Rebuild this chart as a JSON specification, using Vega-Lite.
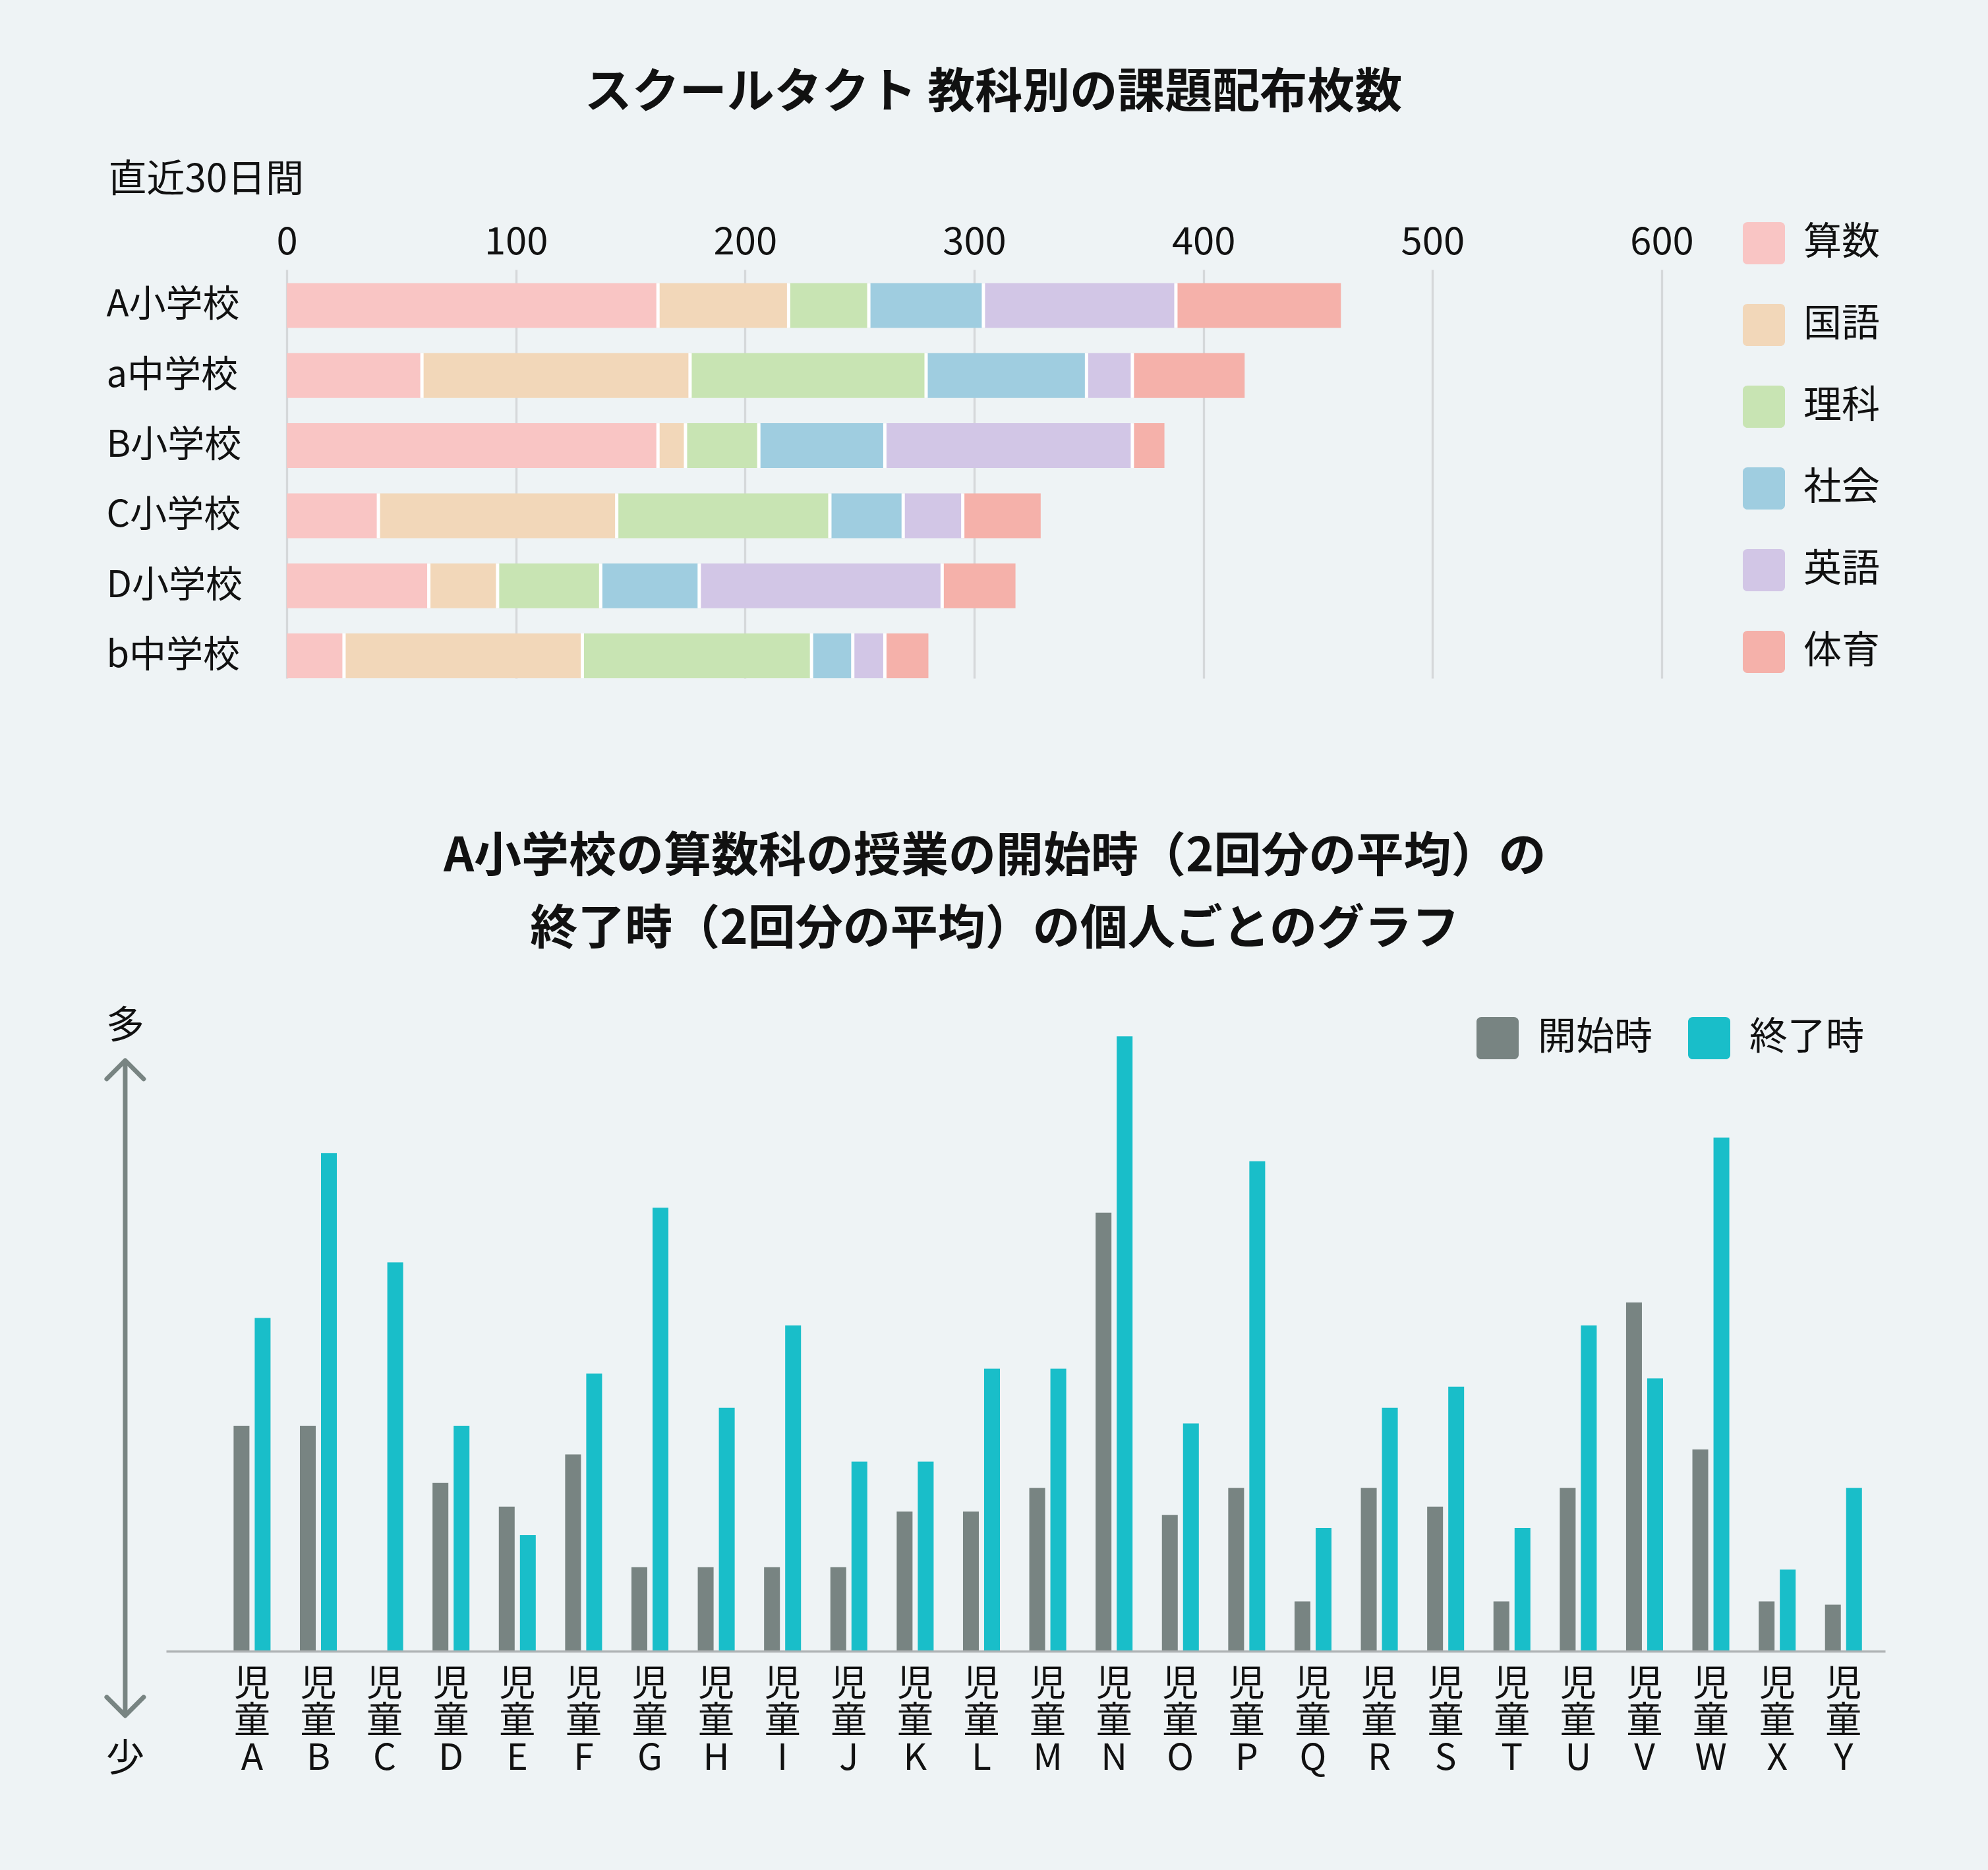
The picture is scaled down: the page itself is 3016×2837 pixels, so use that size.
{
  "$schema": "https://vega.github.io/schema/vega-lite/v6.json",
  "background": "#eef3f5",
  "padding": {"left": 158, "top": 105, "right": 170, "bottom": 150},
  "spacing": 235,
  "resolve": {"scale": {"color": "independent"}, "legend": {"color": "independent"}},
  "config": {
    "font": "Noto Sans CJK JP",
    "view": {"stroke": null},
    "axis": {"labelColor": "#111111", "titleColor": "#111111"},
    "legend": {"labelColor": "#111111"},
    "title": {"color": "#111111"}
  },
  "vconcat": [
    {
      "width": 2269,
      "height": 620,
      "title": {"text": "スクールタクト 教科別の課題配布枚数", "fontSize": 72, "fontWeight": "bold", "anchor": "middle", "frame": "bounds", "offset": 66},
      "data": {"values": [
        {"school": "A小学校", "subject": "算数", "count": 162},
        {"school": "A小学校", "subject": "国語", "count": 57},
        {"school": "A小学校", "subject": "理科", "count": 35},
        {"school": "A小学校", "subject": "社会", "count": 50},
        {"school": "A小学校", "subject": "英語", "count": 84},
        {"school": "A小学校", "subject": "体育", "count": 72},
        {"school": "a中学校", "subject": "算数", "count": 59},
        {"school": "a中学校", "subject": "国語", "count": 117},
        {"school": "a中学校", "subject": "理科", "count": 103},
        {"school": "a中学校", "subject": "社会", "count": 70},
        {"school": "a中学校", "subject": "英語", "count": 20},
        {"school": "a中学校", "subject": "体育", "count": 49},
        {"school": "B小学校", "subject": "算数", "count": 162},
        {"school": "B小学校", "subject": "国語", "count": 12},
        {"school": "B小学校", "subject": "理科", "count": 32},
        {"school": "B小学校", "subject": "社会", "count": 55},
        {"school": "B小学校", "subject": "英語", "count": 108},
        {"school": "B小学校", "subject": "体育", "count": 14},
        {"school": "C小学校", "subject": "算数", "count": 40},
        {"school": "C小学校", "subject": "国語", "count": 104},
        {"school": "C小学校", "subject": "理科", "count": 93},
        {"school": "C小学校", "subject": "社会", "count": 32},
        {"school": "C小学校", "subject": "英語", "count": 26},
        {"school": "C小学校", "subject": "体育", "count": 34},
        {"school": "D小学校", "subject": "算数", "count": 62},
        {"school": "D小学校", "subject": "国語", "count": 30},
        {"school": "D小学校", "subject": "理科", "count": 45},
        {"school": "D小学校", "subject": "社会", "count": 43},
        {"school": "D小学校", "subject": "英語", "count": 106},
        {"school": "D小学校", "subject": "体育", "count": 32},
        {"school": "b中学校", "subject": "算数", "count": 25},
        {"school": "b中学校", "subject": "国語", "count": 104},
        {"school": "b中学校", "subject": "理科", "count": 100},
        {"school": "b中学校", "subject": "社会", "count": 18},
        {"school": "b中学校", "subject": "英語", "count": 14},
        {"school": "b中学校", "subject": "体育", "count": 19}
      ]},
      "transform": [
        {"calculate": "indexof(['算数','国語','理科','社会','英語','体育'], datum.subject)", "as": "order"}
      ],
      "encoding": {
        "y": {
          "field": "school", "type": "nominal",
          "sort": ["A小学校", "a中学校", "B小学校", "C小学校", "D小学校", "b中学校"],
          "scale": {"paddingInner": 0.3603, "paddingOuter": 0.0964, "align": 1},
          "axis": {"title": null, "domain": false, "ticks": false, "labelAlign": "left", "labelPadding": 91, "labelFontSize": 56, "labelBaseline": "middle", "labelLimit": 0}
        }
      },
      "layer": [
        {
          "mark": {"type": "bar"},
          "encoding": {
            "x": {
              "field": "count", "type": "quantitative", "stack": "zero",
              "scale": {"domain": [-52.64, 600], "nice": false, "zero": false},
              "axis": {"orient": "top", "values": [0, 100, 200, 300, 400, 500, 600], "grid": true, "gridColor": "#d5d8da", "gridWidth": 3.3, "domain": false, "ticks": false, "labelFontSize": 58, "labelPadding": 12, "labelFlush": false, "title": "直近30日間", "titleFontSize": 58, "titleFontWeight": "normal", "titleX": -88, "titleY": -107, "titleAlign": "left", "titleBaseline": "bottom", "titleAngle": 0}
            },
            "color": {
              "field": "subject", "type": "nominal",
              "scale": {"domain": ["算数", "国語", "理科", "社会", "英語", "体育"], "range": ["#f9c5c4", "#f2d7b9", "#c8e4b3", "#9fcde0", "#d2c6e6", "#f5b1aa"]},
              "legend": {"orient": "none", "direction": "vertical", "legendX": 2392, "legendY": -72, "title": null, "symbolType": "M-0.78,-1H0.78A0.22,0.22,0,0,1,1,-0.78V0.78A0.22,0.22,0,0,1,0.78,1H-0.78A0.22,0.22,0,0,1,-1,0.78V-0.78A0.22,0.22,0,0,1,-0.78,-1Z", "symbolSize": 4096, "symbolStrokeWidth": 0, "symbolOpacity": 1, "labelFontSize": 58, "labelOffset": 28, "rowPadding": 60, "labelLimit": 0}
            },
            "order": {"field": "order", "type": "quantitative"}
          }
        },
        {
          "transform": [
            {"window": [{"op": "sum", "field": "count", "as": "cum"}], "groupby": ["school"], "sort": [{"field": "order", "order": "ascending"}], "frame": [null, 0]},
            {"filter": "datum.order < 5"}
          ],
          "mark": {"type": "tick", "color": "#ffffff", "thickness": 5, "size": 68, "opacity": 1},
          "encoding": {
            "x": {
              "field": "cum", "type": "quantitative",
              "scale": {"domain": [-52.64, 600], "nice": false, "zero": false},
              "axis": {"orient": "top", "values": [0, 100, 200, 300, 400, 500, 600], "grid": true, "gridColor": "#d5d8da", "gridWidth": 3.3, "domain": false, "ticks": false, "labelFontSize": 58, "labelPadding": 12, "labelFlush": false, "title": "直近30日間", "titleFontSize": 58, "titleFontWeight": "normal", "titleX": -88, "titleY": -107, "titleAlign": "left", "titleBaseline": "bottom", "titleAngle": 0}
            }
          }
        }
      ]
    },
    {
      "width": 2608,
      "height": 991,
      "title": {"text": ["A小学校の算数科の授業の開始時（2回分の平均）の", "終了時（2回分の平均）の個人ごとのグラフ"], "fontSize": 72, "fontWeight": "bold", "anchor": "middle", "frame": "bounds", "offset": 67, "lineHeight": 110},
      "resolve": {"scale": {"x": "independent"}, "axis": {"x": "independent"}},
      "layer": [
        {
          "data": {"values": [
            {"child": "児童A", "phase": "開始時", "value": 2.76}, {"child": "児童A", "phase": "終了時", "value": 4.08},
            {"child": "児童B", "phase": "開始時", "value": 2.76}, {"child": "児童B", "phase": "終了時", "value": 6.10},
            {"child": "児童C", "phase": "開始時", "value": 0}, {"child": "児童C", "phase": "終了時", "value": 4.76},
            {"child": "児童D", "phase": "開始時", "value": 2.06}, {"child": "児童D", "phase": "終了時", "value": 2.76},
            {"child": "児童E", "phase": "開始時", "value": 1.77}, {"child": "児童E", "phase": "終了時", "value": 1.42},
            {"child": "児童F", "phase": "開始時", "value": 2.41}, {"child": "児童F", "phase": "終了時", "value": 3.40},
            {"child": "児童G", "phase": "開始時", "value": 1.03}, {"child": "児童G", "phase": "終了時", "value": 5.43},
            {"child": "児童H", "phase": "開始時", "value": 1.03}, {"child": "児童H", "phase": "終了時", "value": 2.98},
            {"child": "児童I", "phase": "開始時", "value": 1.03}, {"child": "児童I", "phase": "終了時", "value": 3.99},
            {"child": "児童J", "phase": "開始時", "value": 1.03}, {"child": "児童J", "phase": "終了時", "value": 2.32},
            {"child": "児童K", "phase": "開始時", "value": 1.71}, {"child": "児童K", "phase": "終了時", "value": 2.32},
            {"child": "児童L", "phase": "開始時", "value": 1.71}, {"child": "児童L", "phase": "終了時", "value": 3.46},
            {"child": "児童M", "phase": "開始時", "value": 2.00}, {"child": "児童M", "phase": "終了時", "value": 3.46},
            {"child": "児童N", "phase": "開始時", "value": 5.37}, {"child": "児童N", "phase": "終了時", "value": 7.53},
            {"child": "児童O", "phase": "開始時", "value": 1.67}, {"child": "児童O", "phase": "終了時", "value": 2.79},
            {"child": "児童P", "phase": "開始時", "value": 2.00}, {"child": "児童P", "phase": "終了時", "value": 6.00},
            {"child": "児童Q", "phase": "開始時", "value": 0.61}, {"child": "児童Q", "phase": "終了時", "value": 1.51},
            {"child": "児童R", "phase": "開始時", "value": 2.00}, {"child": "児童R", "phase": "終了時", "value": 2.98},
            {"child": "児童S", "phase": "開始時", "value": 1.77}, {"child": "児童S", "phase": "終了時", "value": 3.24},
            {"child": "児童T", "phase": "開始時", "value": 0.61}, {"child": "児童T", "phase": "終了時", "value": 1.51},
            {"child": "児童U", "phase": "開始時", "value": 2.00}, {"child": "児童U", "phase": "終了時", "value": 3.99},
            {"child": "児童V", "phase": "開始時", "value": 4.27}, {"child": "児童V", "phase": "終了時", "value": 3.34},
            {"child": "児童W", "phase": "開始時", "value": 2.47}, {"child": "児童W", "phase": "終了時", "value": 6.29},
            {"child": "児童X", "phase": "開始時", "value": 0.61}, {"child": "児童X", "phase": "終了時", "value": 1.00},
            {"child": "児童Y", "phase": "開始時", "value": 0.57}, {"child": "児童Y", "phase": "終了時", "value": 2.00}
          ]},
          "mark": {"type": "bar"},
          "encoding": {
            "x": {
              "field": "child", "type": "nominal",
              "scale": {"paddingInner": 0.443, "paddingOuter": 0.684, "align": 0.744},
              "axis": {"title": null, "labelAngle": 0, "labelExpr": "split(datum.label, '')", "labelFontSize": 55, "labelLineHeight": 56.5, "labelPadding": 23, "labelBaseline": "top", "ticks": false, "domain": true, "domainColor": "#aeb2b4", "domainWidth": 3.3, "zindex": 1}
            },
            "xOffset": {"field": "phase", "type": "nominal", "sort": ["開始時", "終了時"], "scale": {"paddingInner": 0.25, "paddingOuter": 0}},
            "y": {
              "field": "value", "type": "quantitative",
              "scale": {"domain": [0, 8], "nice": false, "zero": true},
              "axis": {"title": null, "labels": false, "ticks": false, "domain": false, "grid": true, "values": [0, 1, 2, 3, 4, 5, 6, 7, 8], "gridColor": "#d5d8da", "gridWidth": 3.3}
            },
            "color": {
              "field": "phase", "type": "nominal",
              "scale": {"domain": ["開始時", "終了時"], "range": ["#788482", "#19bec9"]},
              "legend": {"orient": "none", "direction": "horizontal", "legendX": 1988, "legendY": 29, "title": null, "symbolType": "M-0.78,-1H0.78A0.22,0.22,0,0,1,1,-0.78V0.78A0.22,0.22,0,0,1,0.78,1H-0.78A0.22,0.22,0,0,1,-1,0.78V-0.78A0.22,0.22,0,0,1,-0.78,-1Z", "symbolSize": 4096, "symbolStrokeWidth": 0, "symbolOpacity": 1, "labelFontSize": 58, "labelOffset": 29, "columnPadding": 53, "labelLimit": 0}
            }
          }
        },
        {
          "data": {"values": [{}]},
          "encoding": {
            "x": {"datum": -0.0238, "type": "quantitative", "scale": {"domain": [0, 1], "nice": false, "zero": false}, "axis": null}
          },
          "layer": [
            {
              "mark": {"type": "rule", "color": "#788482", "strokeWidth": 7, "strokeCap": "round"},
              "encoding": {
                "y": {"datum": 7.2, "type": "quantitative", "scale": {"domain": [0, 8], "nice": false, "zero": true}, "axis": null},
                "y2": {"datum": -0.755}
              }
            },
            {
              "mark": {"type": "point", "shape": "M-1,0.5L0,-0.5L1,0.5", "filled": false, "size": 3136, "strokeWidth": 7, "strokeCap": "round", "strokeJoin": "round", "opacity": 1, "color": "#788482"},
              "encoding": {
                "y": {"datum": 7.121, "type": "quantitative", "scale": {"domain": [0, 8], "nice": false, "zero": true}, "axis": null}
              }
            },
            {
              "mark": {"type": "point", "shape": "M-1,-0.5L0,0.5L1,-0.5", "filled": false, "size": 3136, "strokeWidth": 7, "strokeCap": "round", "strokeJoin": "round", "opacity": 1, "color": "#788482"},
              "encoding": {
                "y": {"datum": -0.676, "type": "quantitative", "scale": {"domain": [0, 8], "nice": false, "zero": true}, "axis": null}
              }
            },
            {
              "mark": {"type": "text", "fontSize": 58, "color": "#111111", "align": "center", "baseline": "middle"},
              "encoding": {
                "y": {"datum": 7.641, "type": "quantitative", "scale": {"domain": [0, 8], "nice": false, "zero": true}, "axis": null},
                "text": {"value": "多"}
              }
            },
            {
              "mark": {"type": "text", "fontSize": 58, "color": "#111111", "align": "center", "baseline": "middle"},
              "encoding": {
                "y": {"datum": -1.334, "type": "quantitative", "scale": {"domain": [0, 8], "nice": false, "zero": true}, "axis": null},
                "text": {"value": "少"}
              }
            }
          ]
        }
      ]
    }
  ]
}
